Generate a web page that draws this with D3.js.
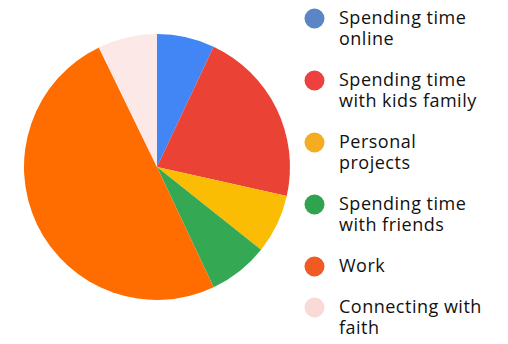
<!DOCTYPE html>
<html>
<head>
<meta charset="utf-8">
<script src="https://d3js.org/d3.v7.min.js"></script>
<style>
body { margin: 0; background: #fff; font-family: 'Open Sans', sans-serif; }
svg { display: block; }
</style>
</head>
<body>
<svg width="508" height="344"></svg>
<script>
// categories in pie order (clockwise from 12 o'clock)
var labels = [
  ["Spending time", "online"],
  ["Spending time", "with kids family"],
  ["Personal", "projects"],
  ["Spending time", "with friends"],
  ["Work"],
  ["Connecting with", "faith"]
];
var values = [7, 21.5, 7.2, 7.3, 49.8, 7.2];
var sliceColors = ["#4285F4", "#EA4335", "#FBBC04", "#34A853", "#FF6D01", "#FCE8E6"];
var dotColors = ["#5B86C5", "#EF4040", "#F5AC20", "#2EA44F", "#F15A22", "#FADAD6"];

var svg = d3.select("svg");

var radius = 133;
var pie = d3.pie().sort(null).value(function(d) { return d; });
var arc = d3.arc().innerRadius(0).outerRadius(radius);

var g = svg.append("g").attr("transform", "translate(157,167)");
g.selectAll("path")
  .data(pie(values))
  .enter().append("path")
  .attr("d", arc)
  .attr("fill", function(d, i) { return sliceColors[i]; });

// legend
var lineH = 21, gap = 20;
var y = 18.5;
var legend = svg.append("g");
labels.forEach(function(lines, i) {
  legend.append("circle")
    .attr("cx", 314.5)
    .attr("cy", y)
    .attr("r", 10)
    .attr("fill", dotColors[i]);
  var t = legend.append("text")
    .attr("x", 339)
    .attr("y", y + 5.5)
    .attr("font-size", "18px")
    .attr("letter-spacing", "0.5px")
    .attr("fill", "#111");
  lines.forEach(function(l, j) {
    t.append("tspan").attr("x", 339).attr("dy", j == 0 ? 0 : lineH).text(l);
  });
  y += lines.length * lineH + gap;
});
</script>
</body>
</html>
